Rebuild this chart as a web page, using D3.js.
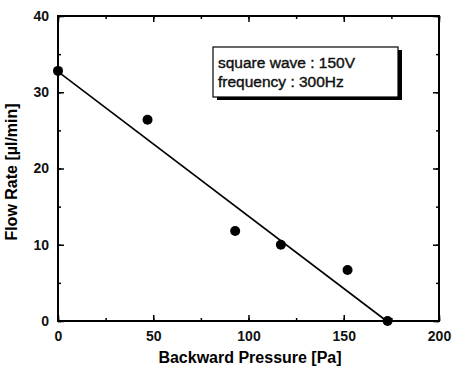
<!DOCTYPE html>
<html>
<head>
<meta charset="utf-8">
<script src="https://cdn.jsdelivr.net/npm/d3@7"></script>
<style>
  body { margin: 0; background: #fff; }
  text { font-family: "Liberation Sans", Arial, sans-serif; }
</style>
</head>
<body>
<div class="container"></div>
<script>
const size = { width: 452, height: 367 };
const margin = { top: 16, right: 13, bottom: 46, left: 58 };

// measured points
const pressure = [0, 47, 93, 117, 152, 173];
const flow = [32.8, 26.4, 11.8, 10, 6.7, 0];
// linear fit endpoints
const fitX = [0, 172.5];
const fitY = [32.7, 0];
const xTicks = [0, 50, 100, 150, 200];
const yTicks = [0, 10, 20, 30, 40];
const legendLines = ["square wave : 150V", "frequency : 300Hz"];

const w = size.width - margin.left - margin.right;
const h = size.height - margin.top - margin.bottom;

const svg = d3.select(".container")
  .append("svg")
  .attr("width", size.width)
  .attr("height", size.height);

const g = svg.append("g")
  .attr("transform", `translate(${margin.left},${margin.top})`);

const x = d3.scaleLinear().domain([0, 200]).range([0, w]);
const y = d3.scaleLinear().domain([0, 40]).range([h, 0]);

const minorX = d3.range(0, 201, 25);
const minorY = d3.range(0, 41, 5);

// inward ticks on all four sides
const drawAxis = (axis, tr, cls) => {
  const a = g.append("g").attr("class", cls).attr("transform", tr).call(axis);
  a.select(".domain").remove();
  a.selectAll("line").attr("stroke", "#000").attr("stroke-width", 1.5);
  return a;
};

drawAxis(d3.axisBottom(x).tickValues(xTicks).tickSize(-6).tickPadding(10), `translate(0,${h})`, "xb");
drawAxis(d3.axisBottom(x).tickValues(minorX).tickSize(-3).tickFormat(""), `translate(0,${h})`, "xbm");
drawAxis(d3.axisTop(x).tickValues(xTicks).tickSize(-6).tickFormat(""), "translate(0,0)", "xt");
drawAxis(d3.axisTop(x).tickValues(minorX).tickSize(-3).tickFormat(""), "translate(0,0)", "xtm");
drawAxis(d3.axisLeft(y).tickValues(yTicks).tickSize(-6).tickPadding(9), "translate(0,0)", "yl");
drawAxis(d3.axisLeft(y).tickValues(minorY).tickSize(-3).tickFormat(""), "translate(0,0)", "ylm");
drawAxis(d3.axisRight(y).tickValues(yTicks).tickSize(-6).tickFormat(""), `translate(${w},0)`, "yr");
drawAxis(d3.axisRight(y).tickValues(minorY).tickSize(-3).tickFormat(""), `translate(${w},0)`, "yrm");

svg.selectAll(".xb text, .yl text")
  .attr("font-size", 14)
  .attr("font-weight", "bold")
  .attr("fill", "#111")
  .style("font-family", "'Liberation Sans', Arial, sans-serif");

// frame
g.append("rect")
  .attr("width", w).attr("height", h)
  .attr("fill", "none").attr("stroke", "#000").attr("stroke-width", 2);

// fit line
g.append("line")
  .attr("x1", x(fitX[0])).attr("y1", y(fitY[0]))
  .attr("x2", x(fitX[1])).attr("y2", y(fitY[1]))
  .attr("stroke", "#000").attr("stroke-width", 1.6);

// points
g.selectAll("circle")
  .data(pressure)
  .enter()
  .append("circle")
  .attr("cx", d => x(d))
  .attr("cy", (d, i) => y(flow[i]))
  .attr("r", 5)
  .attr("fill", "#000");

// legend box with shadow
const lg = svg.append("g").attr("transform", "translate(213,47)");
lg.append("rect").attr("x", 4).attr("y", 3).attr("width", 185).attr("height", 50).attr("fill", "#000");
lg.append("rect").attr("width", 185).attr("height", 50).attr("fill", "#fff")
  .attr("stroke", "#000").attr("stroke-width", 1.2);
lg.selectAll("text")
  .data(legendLines)
  .enter()
  .append("text")
  .attr("x", 5)
  .attr("y", (d, i) => 21 + i * 19)
  .attr("font-size", 15.5)
  .attr("fill", "#111")
  .attr("stroke", "#111")
  .attr("stroke-width", 0.4)
  .text(d => d);

// axis titles
svg.append("text")
  .attr("x", 250)
  .attr("y", 363)
  .attr("text-anchor", "middle")
  .attr("font-size", 16)
  .attr("font-weight", "bold")
  .text("Backward Pressure [Pa]");

svg.append("text")
  .attr("transform", "translate(17,172) rotate(-90)")
  .attr("text-anchor", "middle")
  .attr("font-size", 16)
  .attr("font-weight", "bold")
  .text("Flow Rate [µl/min]");
</script>
</body>
</html>
